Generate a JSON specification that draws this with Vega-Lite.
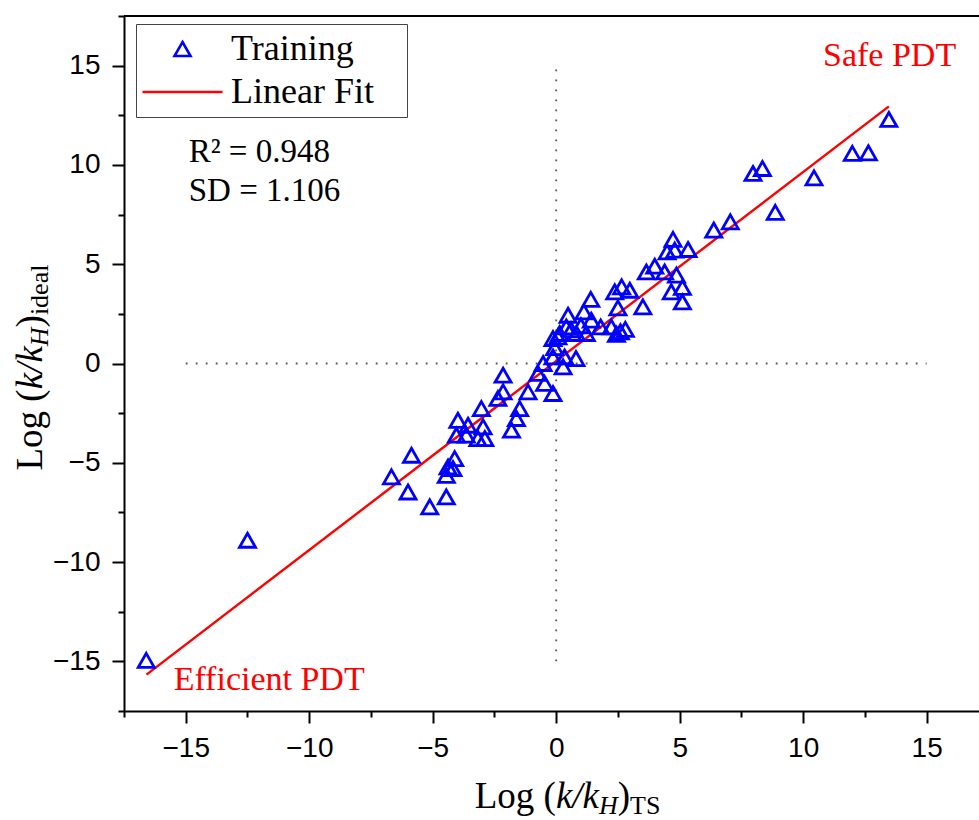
{
  "$schema": "https://vega.github.io/schema/vega-lite/v6.json",
  "width": 855,
  "height": 695,
  "autosize": "none",
  "padding": {"left": 124, "top": 16, "right": 0, "bottom": 109},
  "background": "white",
  "resolve": {"axis": {"x": "independent", "y": "independent"}},
  "config": {
    "view": {"stroke": null},
    "axis": {"domainColor": "black", "domainWidth": 2, "tickColor": "black", "tickWidth": 2, "labelFont": "Liberation Sans", "labelFontSize": 28, "labelColor": "black", "grid": false, "labelFlush": false, "labelOverlap": false}
  },
  "datasets": {
    "training": [
      {"x": -16.6, "y": -14.95, "series": "Training"},
      {"x": -12.5, "y": -8.9, "series": "Training"},
      {"x": -6.67, "y": -5.71, "series": "Training"},
      {"x": -6.0, "y": -6.47, "series": "Training"},
      {"x": -5.86, "y": -4.62, "series": "Training"},
      {"x": -5.12, "y": -7.22, "series": "Training"},
      {"x": -4.45, "y": -6.72, "series": "Training"},
      {"x": -4.45, "y": -5.63, "series": "Training"},
      {"x": -4.38, "y": -5.21, "series": "Training"},
      {"x": -4.18, "y": -5.29, "series": "Training"},
      {"x": -4.11, "y": -4.79, "series": "Training"},
      {"x": -4.04, "y": -3.61, "series": "Training"},
      {"x": -3.98, "y": -2.86, "series": "Training"},
      {"x": -3.64, "y": -3.61, "series": "Training"},
      {"x": -3.57, "y": -3.11, "series": "Training"},
      {"x": -3.17, "y": -3.78, "series": "Training"},
      {"x": -2.96, "y": -3.19, "series": "Training"},
      {"x": -2.89, "y": -3.78, "series": "Training"},
      {"x": -3.03, "y": -2.27, "series": "Training"},
      {"x": -2.36, "y": -1.76, "series": "Training"},
      {"x": -2.15, "y": -1.43, "series": "Training"},
      {"x": -2.15, "y": -0.59, "series": "Training"},
      {"x": -1.81, "y": -3.36, "series": "Training"},
      {"x": -1.61, "y": -2.77, "series": "Training"},
      {"x": -1.48, "y": -2.27, "series": "Training"},
      {"x": -1.14, "y": -1.43, "series": "Training"},
      {"x": -0.74, "y": -0.5, "series": "Training"},
      {"x": -0.53, "y": 0.0, "series": "Training"},
      {"x": -0.47, "y": -1.0, "series": "Training"},
      {"x": -0.13, "y": -1.51, "series": "Training"},
      {"x": -0.13, "y": 0.33, "series": "Training"},
      {"x": -0.06, "y": 0.8, "series": "Training"},
      {"x": -0.13, "y": 1.26, "series": "Training"},
      {"x": 0.28, "y": -0.17, "series": "Training"},
      {"x": 0.34, "y": 0.33, "series": "Training"},
      {"x": 0.8, "y": 0.25, "series": "Training"},
      {"x": 0.07, "y": 1.34, "series": "Training"},
      {"x": 0.14, "y": 1.51, "series": "Training"},
      {"x": 0.41, "y": 1.84, "series": "Training"},
      {"x": 0.48, "y": 2.43, "series": "Training"},
      {"x": 0.6, "y": 1.7, "series": "Training"},
      {"x": 0.82, "y": 1.51, "series": "Training"},
      {"x": 1.0, "y": 1.9, "series": "Training"},
      {"x": 1.22, "y": 1.51, "series": "Training"},
      {"x": 1.12, "y": 2.6, "series": "Training"},
      {"x": 1.42, "y": 2.18, "series": "Training"},
      {"x": 1.4, "y": 3.23, "series": "Training"},
      {"x": 1.8, "y": 1.84, "series": "Training"},
      {"x": 2.23, "y": 1.84, "series": "Training"},
      {"x": 2.44, "y": 1.47, "series": "Training"},
      {"x": 2.6, "y": 1.6, "series": "Training"},
      {"x": 2.8, "y": 1.72, "series": "Training"},
      {"x": 2.37, "y": 3.61, "series": "Training"},
      {"x": 2.65, "y": 3.86, "series": "Training"},
      {"x": 2.98, "y": 3.69, "series": "Training"},
      {"x": 2.5, "y": 2.8, "series": "Training"},
      {"x": 3.51, "y": 2.85, "series": "Training"},
      {"x": 3.65, "y": 4.61, "series": "Training"},
      {"x": 3.99, "y": 4.9, "series": "Training"},
      {"x": 4.39, "y": 4.61, "series": "Training"},
      {"x": 4.87, "y": 4.45, "series": "Training"},
      {"x": 4.66, "y": 3.61, "series": "Training"},
      {"x": 5.11, "y": 3.83, "series": "Training"},
      {"x": 5.11, "y": 3.1, "series": "Training"},
      {"x": 4.49, "y": 5.62, "series": "Training"},
      {"x": 4.8, "y": 5.71, "series": "Training"},
      {"x": 5.34, "y": 5.74, "series": "Training"},
      {"x": 4.73, "y": 6.25, "series": "Training"},
      {"x": 6.38, "y": 6.72, "series": "Training"},
      {"x": 7.05, "y": 7.13, "series": "Training"},
      {"x": 7.97, "y": 9.57, "series": "Training"},
      {"x": 8.35, "y": 9.82, "series": "Training"},
      {"x": 8.87, "y": 7.61, "series": "Training"},
      {"x": 10.44, "y": 9.35, "series": "Training"},
      {"x": 11.99, "y": 10.58, "series": "Training"},
      {"x": 12.64, "y": 10.61, "series": "Training"},
      {"x": 13.47, "y": 12.29, "series": "Training"}
    ],
    "fit": [
      {"x": -16.59, "y": -15.67, "series": "Linear Fit"},
      {"x": 13.47, "y": 12.95, "series": "Linear Fit"}
    ],
    "guides": [
      {"x1": -15, "x2": 15, "y1": 0, "y2": 0},
      {"x1": 0, "x2": 0, "y1": -15, "y2": 15}
    ]
  },
  "layer": [
    {
      "data": {"name": "guides"},
      "mark": {"type": "rule", "color": "#555555", "strokeWidth": 1.8, "strokeDash": [1.8, 8.2]},
      "encoding": {
        "x": {"field": "x1", "type": "quantitative",
          "scale": {"domain": [-17.5, 17.12], "nice": false, "zero": false},
          "axis": {"orient": "bottom", "values": [-17.5, -12.5, -7.5, -2.5, 2.5, 7.5, 12.5], "tickSize": 6, "labels": false, "domain": false, "title": null}},
        "x2": {"field": "x2"},
        "y": {"field": "y1", "type": "quantitative",
          "scale": {"domain": [-17.5, 17.5], "nice": false, "zero": false},
          "axis": {"orient": "left", "values": [-17.5, -12.5, -7.5, -2.5, 2.5, 7.5, 12.5, 17.5], "tickSize": 6, "labels": false, "domain": false, "title": null}},
        "y2": {"field": "y2"}
      }
    },
    {
      "data": {"values": [{}]},
      "mark": {"type": "rule", "color": "black", "strokeWidth": 2},
      "encoding": {"y": {"datum": 17.5, "axis": null}}
    },
    {
      "data": {"name": "fit"},
      "mark": {"type": "line", "strokeWidth": 2.4},
      "encoding": {
        "x": {"field": "x", "type": "quantitative", "axis": null},
        "y": {"field": "y", "type": "quantitative", "axis": null},
        "stroke": {"field": "series", "type": "nominal",
          "scale": {"domain": ["Training", "Linear Fit"], "range": ["#0000ff", "#ff0000"]},
          "legend": {"title": null, "orient": "none", "legendX": 12, "legendY": 8, "padding": 7, "strokeColor": "#444444", "fillColor": "white",
            "labelFont": "Liberation Serif", "labelFontSize": 36, "labelColor": "black", "labelLimit": 500, "labelOffset": 30.5,
            "symbolOffset": 21.5, "rowPadding": 7, "symbolSize": 100, "symbolStrokeWidth": 2.6, "symbolFillColor": "transparent",
            "labelExpr": "datum.label + '\u2800'"}}
      }
    },
    {
      "data": {"name": "training"},
      "mark": {"type": "point", "filled": false, "strokeWidth": 2.8, "size": 100, "opacity": 1},
      "encoding": {
        "x": {"field": "x", "type": "quantitative",
          "axis": {"orient": "bottom", "values": [-15, -10, -5, 0, 5, 10, 15], "format": "d", "tickSize": 12, "labelPadding": 11, "title": null}},
        "y": {"field": "y", "type": "quantitative",
          "axis": {"orient": "left", "values": [-15, -10, -5, 0, 5, 10, 15], "format": "d", "tickSize": 12, "labelPadding": 12, "title": null}},
        "stroke": {"field": "series", "type": "nominal",
          "scale": {"domain": ["Training", "Linear Fit"], "range": ["#0000ff", "#ff0000"]},
          "legend": {"title": null, "orient": "none", "legendX": 12, "legendY": 8, "padding": 7, "strokeColor": "#444444", "fillColor": "white",
            "labelFont": "Liberation Serif", "labelFontSize": 36, "labelColor": "black", "labelLimit": 500, "labelOffset": 30.5,
            "symbolOffset": 21.5, "rowPadding": 7, "symbolSize": 100, "symbolStrokeWidth": 2.6, "symbolFillColor": "transparent",
            "labelExpr": "datum.label + '\u2800'"}},
        "shape": {"field": "series", "type": "nominal",
          "scale": {"domain": ["Training", "Linear Fit"], "range": ["M0,-1.4L1.6,1.4L-1.6,1.4Z", "M-8,0H8"]},
          "legend": {"title": null, "orient": "none", "legendX": 12, "legendY": 8, "padding": 7, "strokeColor": "#444444", "fillColor": "white",
            "labelFont": "Liberation Serif", "labelFontSize": 36, "labelColor": "black", "labelLimit": 500, "labelOffset": 30.5,
            "symbolOffset": 21.5, "rowPadding": 7, "symbolSize": 100, "symbolStrokeWidth": 2.6, "symbolFillColor": "transparent",
            "labelExpr": "datum.label + '\u2800'"}}
      }
    },
    {
      "data": {"values": [{}]},
      "mark": {"type": "text", "text": "Safe PDT", "font": "Liberation Serif", "fontSize": 34, "color": "#ff0000", "align": "center", "baseline": "alphabetic"},
      "encoding": {"x": {"datum": 13.5, "axis": null}, "y": {"datum": 15.0, "axis": null}}
    },
    {
      "data": {"values": [{}]},
      "mark": {"type": "text", "text": "Efficient PDT", "font": "Liberation Serif", "fontSize": 34, "color": "#ff0000", "align": "left", "baseline": "alphabetic"},
      "encoding": {"x": {"datum": -15.49, "axis": null}, "y": {"datum": -16.42, "axis": null}}
    },
    {
      "data": {"values": [{}]},
      "mark": {"type": "text", "text": "R² = 0.948", "font": "Liberation Serif", "fontSize": 33, "color": "black", "align": "left", "baseline": "alphabetic"},
      "encoding": {"x": {"datum": -14.88, "axis": null}, "y": {"datum": 10.13, "axis": null}}
    },
    {
      "data": {"values": [{}]},
      "mark": {"type": "text", "text": "SD = 1.106", "font": "Liberation Serif", "fontSize": 33, "color": "black", "align": "left", "baseline": "alphabetic"},
      "encoding": {"x": {"datum": -14.88, "axis": null}, "y": {"datum": 8.18, "axis": null}}
    },
    {
      "data": {"values": [{}]},
      "mark": {"type": "text", "text": "Log (", "font": "Liberation Serif", "fontSize": 37, "color": "black", "align": "left", "baseline": "alphabetic", "dx": -81.5},
      "encoding": {"x": {"datum": 0, "axis": null}, "y": {"datum": -22.4, "axis": null}}
    },
    {
      "data": {"values": [{}]},
      "mark": {"type": "text", "text": "k/k", "font": "Liberation Serif", "fontStyle": "italic", "fontSize": 37, "color": "black", "align": "left", "baseline": "alphabetic", "dx": -0.3},
      "encoding": {"x": {"datum": 0, "axis": null}, "y": {"datum": -22.4, "axis": null}}
    },
    {
      "data": {"values": [{}]},
      "mark": {"type": "text", "text": "H", "font": "Liberation Serif", "fontStyle": "italic", "fontSize": 26, "color": "black", "align": "left", "baseline": "alphabetic", "dx": 42.8, "dy": 6},
      "encoding": {"x": {"datum": 0, "axis": null}, "y": {"datum": -22.4, "axis": null}}
    },
    {
      "data": {"values": [{}]},
      "mark": {"type": "text", "text": ")", "font": "Liberation Serif", "fontSize": 37, "color": "black", "align": "left", "baseline": "alphabetic", "dx": 61.6},
      "encoding": {"x": {"datum": 0, "axis": null}, "y": {"datum": -22.4, "axis": null}}
    },
    {
      "data": {"values": [{}]},
      "mark": {"type": "text", "text": "TS", "font": "Liberation Serif", "fontSize": 26, "color": "black", "align": "left", "baseline": "alphabetic", "dx": 73.9, "dy": 6},
      "encoding": {"x": {"datum": 0, "axis": null}, "y": {"datum": -22.4, "axis": null}}
    },
    {
      "data": {"values": [{}]},
      "mark": {"type": "text", "text": "Log (", "font": "Liberation Serif", "fontSize": 37, "color": "black", "align": "left", "baseline": "alphabetic", "angle": 270, "dx": -107},
      "encoding": {"x": {"datum": -20.83, "axis": null}, "y": {"datum": 0, "axis": null}}
    },
    {
      "data": {"values": [{}]},
      "mark": {"type": "text", "text": "k/k", "font": "Liberation Serif", "fontStyle": "italic", "fontSize": 37, "color": "black", "align": "left", "baseline": "alphabetic", "angle": 270, "dx": -25.8},
      "encoding": {"x": {"datum": -20.83, "axis": null}, "y": {"datum": 0, "axis": null}}
    },
    {
      "data": {"values": [{}]},
      "mark": {"type": "text", "text": "H", "font": "Liberation Serif", "fontStyle": "italic", "fontSize": 26, "color": "black", "align": "left", "baseline": "alphabetic", "angle": 270, "dx": 17.3, "dy": 6},
      "encoding": {"x": {"datum": -20.83, "axis": null}, "y": {"datum": 0, "axis": null}}
    },
    {
      "data": {"values": [{}]},
      "mark": {"type": "text", "text": ")", "font": "Liberation Serif", "fontSize": 37, "color": "black", "align": "left", "baseline": "alphabetic", "angle": 270, "dx": 36.1},
      "encoding": {"x": {"datum": -20.83, "axis": null}, "y": {"datum": 0, "axis": null}}
    },
    {
      "data": {"values": [{}]},
      "mark": {"type": "text", "text": "ideal", "font": "Liberation Serif", "fontSize": 26, "color": "black", "align": "left", "baseline": "alphabetic", "angle": 270, "dx": 48.4, "dy": 6},
      "encoding": {"x": {"datum": -20.83, "axis": null}, "y": {"datum": 0, "axis": null}}
    }
  ]
}
